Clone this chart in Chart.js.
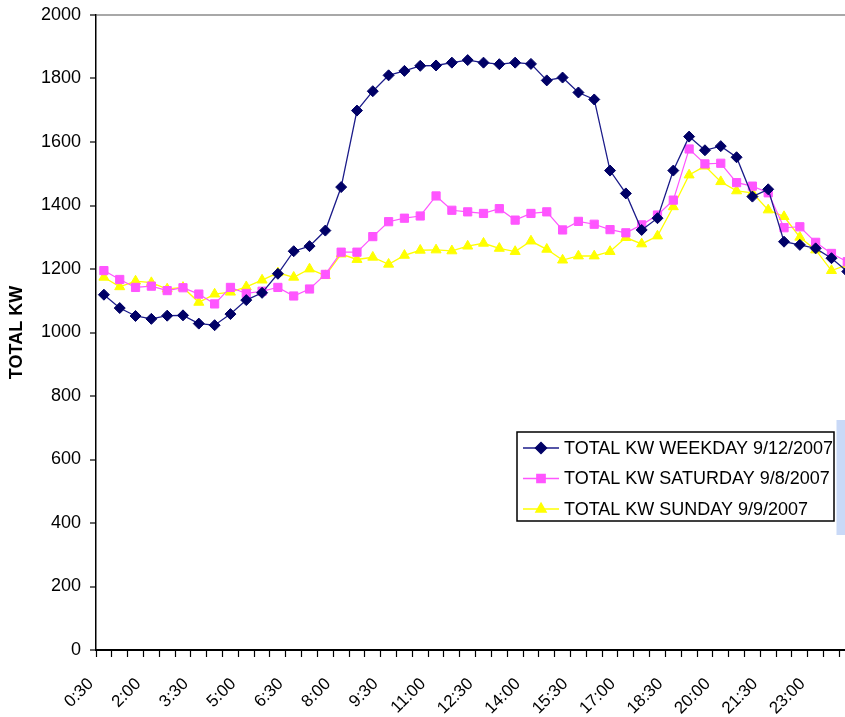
<!DOCTYPE html>
<html>
<head>
<meta charset="utf-8">
<script src="https://cdn.jsdelivr.net/npm/chart.js@4.4.1/dist/chart.umd.min.js"></script>
<style>
    body { margin: 0; background: #ffffff; overflow: hidden; }
    #wrap { position: relative; width: 845px; height: 717px; overflow: hidden; }
    #grafico { position: absolute; left: 0; top: 0; }
    #barra { position: absolute; left: 836px; top: 420px; width: 12px; height: 115px; background: #c9d9f7; border-left: 1px solid #e3ecfb; }
</style>
</head>
<body>
<div id="wrap">
    <canvas id="grafico" width="862" height="717"></canvas>
    <div id="barra"></div>
</div>
<script>
const horarios = ['0:30', '1:00', '1:30', '2:00', '2:30', '3:00', '3:30', '4:00', '4:30', '5:00', '5:30', '6:00',
    '6:30', '7:00', '7:30', '8:00', '8:30', '9:00', '9:30', '10:00', '10:30', '11:00', '11:30', '12:00',
    '12:30', '13:00', '13:30', '14:00', '14:30', '15:00', '15:30', '16:00', '16:30', '17:00', '17:30', '18:00',
    '18:30', '19:00', '19:30', '20:00', '20:30', '21:00', '21:30', '22:00', '22:30', '23:00', '23:30', '0:00'];

const kwSemana = [1119, 1077, 1052, 1043, 1053, 1054, 1028, 1023, 1058, 1102, 1125, 1185,
    1256, 1272, 1321, 1458, 1699, 1760, 1810, 1824, 1840, 1841, 1850, 1858,
    1850, 1845, 1850, 1846, 1794, 1803, 1756, 1734, 1510, 1438, 1323, 1360,
    1510, 1617, 1574, 1587, 1552, 1428, 1451, 1286, 1276, 1265, 1234, 1192];

const kwSabado = [1195, 1167, 1142, 1146, 1132, 1141, 1121, 1090, 1142, 1123, 1130, 1142,
    1115, 1137, 1183, 1253, 1253, 1302, 1349, 1360, 1367, 1430, 1385, 1380,
    1375, 1390, 1354, 1375, 1380, 1323, 1350, 1341, 1324, 1314, 1339, 1370,
    1417, 1578, 1531, 1533, 1472, 1461, 1440, 1330, 1333, 1284, 1249, 1223];

const kwDomingo = [1174, 1144, 1162, 1157, 1137, 1142, 1095, 1121, 1127, 1144, 1165, 1188,
    1174, 1200, 1179, 1247, 1230, 1237, 1215, 1243, 1259, 1260, 1257, 1272,
    1281, 1265, 1255, 1288, 1262, 1228, 1241, 1241, 1255, 1299, 1279, 1304,
    1396, 1496, 1524, 1475, 1446, 1440, 1386, 1365, 1300, 1260, 1195, 1213];

const legendas = ['TOTAL KW WEEKDAY 9/12/2007', 'TOTAL KW SATURDAY 9/8/2007', 'TOTAL KW SUNDAY 9/9/2007'];
const yTicks = [0, 200, 400, 600, 800, 1000, 1200, 1400, 1600, 1800, 2000];

Chart.defaults.font.family = '"Liberation Sans", Arial, sans-serif';
Chart.defaults.color = '#000000';

// legenda desenhada dentro da area do grafico, como no Excel
const legendaExcel = {
    id: 'legendaExcel',
    afterDraw(chart) {
        const ctx = chart.ctx;
        ctx.save();
        ctx.fillStyle = '#ffffff';
        ctx.fillRect(517, 432, 317, 89);
        ctx.strokeStyle = '#000000';
        ctx.lineWidth = 1.5;
        ctx.strokeRect(517, 432, 317, 89);
        chart.data.datasets.forEach((ds, i) => {
            const y = 448 + i * 30.5;
            ctx.strokeStyle = ds.borderColor;
            ctx.lineWidth = 1.5;
            ctx.beginPath();
            ctx.moveTo(523, y);
            ctx.lineTo(559, y);
            ctx.stroke();
            ctx.fillStyle = ds.pointBackgroundColor;
            ctx.strokeStyle = ds.pointBorderColor;
            Chart.helpers.drawPoint(ctx, {
                pointStyle: ds.pointStyle, radius: ds.pointRadius, rotation: 0, borderWidth: 1
            }, 541, y);
            ctx.fillStyle = '#000000';
            ctx.font = '18px "Liberation Sans", Arial, sans-serif';
            ctx.textBaseline = 'middle';
            ctx.textAlign = 'left';
            ctx.fillText(ds.label, 564, y + 1);
        });
        ctx.restore();
    }
};

const grafico = new Chart(document.getElementById('grafico').getContext('2d'), {
    type: 'line',
    data: {
        labels: horarios,
        datasets: [{
            label: legendas[0],
            data: kwSemana,
            borderColor: '#1c1c8a',
            borderWidth: 1.3,
            pointStyle: 'rectRot',
            pointRadius: 5.5,
            pointBackgroundColor: '#000066',
            pointBorderColor: '#000066',
            pointBorderWidth: 1
        }, {
            label: legendas[1],
            data: kwSabado,
            borderColor: '#ff55ff',
            borderWidth: 1.2,
            pointStyle: 'rect',
            pointRadius: 5.8,
            pointBackgroundColor: '#ff55ff',
            pointBorderColor: '#ff55ff',
            pointBorderWidth: 1
        }, {
            label: legendas[2],
            data: kwDomingo,
            borderColor: '#ffff00',
            borderWidth: 1.3,
            pointStyle: 'triangle',
            pointRadius: 5.8,
            pointBackgroundColor: '#ffff00',
            pointBorderColor: '#ffff00',
            pointBorderWidth: 1
        }]
    },
    options: {
        responsive: false,
        animation: false,
        layout: { padding: { top: 15, left: 0, right: 0, bottom: 0 } },
        plugins: {
            legend: { display: false },
            tooltip: { enabled: false }
        },
        scales: {
            x: {
                offset: true,
                grid: { offset: true, drawOnChartArea: false, tickLength: 7, tickColor: '#000000', tickWidth: 1.2 },
                border: { display: true, color: '#000000', width: 2 },
                ticks: {
                    autoSkip: false,
                    maxRotation: 45,
                    minRotation: 45,
                    padding: 17,
                    labelOffset: -13,
                    font: { size: 17 },
                    callback: function (val, idx) {
                        return idx % 3 === 0 ? horarios[idx] : '';
                    }
                },
                afterFit: function (scale) {
                    scale.height = 67;
                    scale.paddingLeft = 0;
                    scale.paddingRight = 0;
                }
            },
            y: {
                min: yTicks[0],
                max: yTicks[yTicks.length - 1],
                afterBuildTicks: function (scale) {
                    scale.ticks = yTicks.map(v => ({ value: v }));
                },
                grid: {
                    tickLength: 6,
                    tickColor: '#000000',
                    tickWidth: 1.2,
                    lineWidth: 2,
                    color: function (c) { return c.tick && c.tick.value === 2000 ? '#a8a8a8' : 'rgba(0,0,0,0)'; }
                },
                border: { display: true, color: '#000000', width: 1.5 },
                ticks: {
                    padding: 9,
                    font: { size: 18 },
                    callback: function (v) { return String(v); }
                },
                title: {
                    display: true,
                    text: 'TOTAL KW',
                    font: { size: 18, weight: 'bold' },
                    padding: { top: 6, bottom: 0 }
                },
                afterFit: function (scale) {
                    scale.width = 96;
                    scale.paddingTop = 0;
                    scale.paddingBottom = 0;
                }
            }
        }
    },
    plugins: [legendaExcel]
});
</script>
</body>
</html>
